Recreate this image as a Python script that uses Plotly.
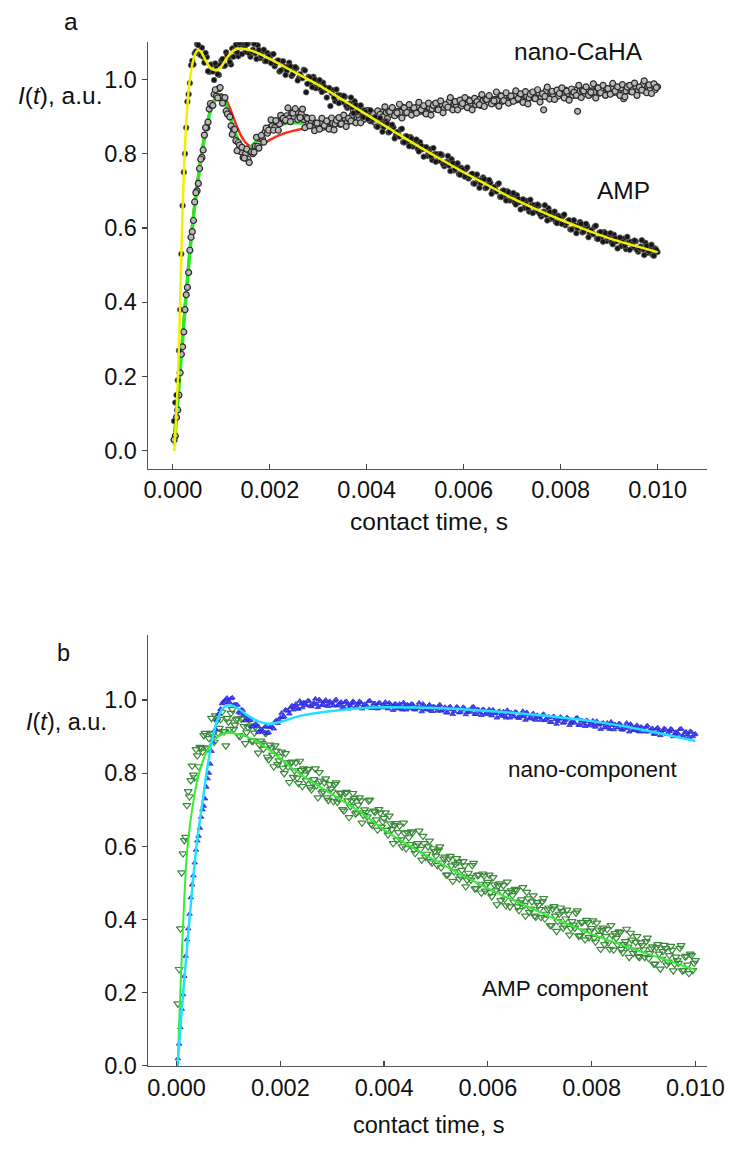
import plotly.graph_objects as go

# ---------------- data ----------------
# sampling grids of the measurements (microseconds -> seconds)
t_us = list(range(50, 10001, 50))
t_grid = [v * 1e-6 for v in t_us]
t_mid_us = list(range(25, 10000, 50))
t_mid = [v * 1e-6 for v in t_mid_us]

# panel a: measured signals (values on t_grid and on t_mid)
nano_caha = [
    0.04, 0.11, 0.21, 0.28, 0.38, 0.44, 0.54, 0.59, 0.67, 0.70, 0.76, 0.79, 0.85, 0.87, 0.92, 0.93, 0.96, 0.955, 0.975, 0.95,
    0.945, 0.915, 0.905, 0.875, 0.865, 0.835, 0.83, 0.805, 0.79, 0.80, 0.785, 0.805, 0.80, 0.82, 0.82, 0.84, 0.84, 0.858, 0.855, 0.87,
    0.875, 0.87, 0.886, 0.88, 0.895, 0.888, 0.902, 0.895, 0.91, 0.90, 0.912, 0.898, 0.907, 0.892, 0.898, 0.882, 0.888, 0.874, 0.882, 0.871,
    0.883, 0.871, 0.880, 0.870, 0.886, 0.882, 0.880, 0.893, 0.879, 0.889, 0.895, 0.885, 0.891, 0.903, 0.886, 0.899, 0.894, 0.905, 0.893, 0.902,
    0.896, 0.910, 0.902, 0.908, 0.898, 0.912, 0.897, 0.910, 0.914, 0.906, 0.918, 0.904, 0.914, 0.912, 0.925, 0.909, 0.920, 0.910, 0.922, 0.918,
    0.926, 0.914, 0.923, 0.911, 0.927, 0.923, 0.920, 0.933, 0.919, 0.927, 0.933, 0.923, 0.928, 0.940, 0.923, 0.935, 0.930, 0.940, 0.928, 0.937,
    0.931, 0.945, 0.936, 0.942, 0.932, 0.946, 0.930, 0.943, 0.947, 0.939, 0.950, 0.936, 0.946, 0.944, 0.956, 0.941, 0.952, 0.942, 0.954, 0.950,
    0.958, 0.945, 0.954, 0.943, 0.958, 0.954, 0.950, 0.963, 0.949, 0.957, 0.963, 0.952, 0.918, 0.969, 0.951, 0.964, 0.958, 0.968, 0.955, 0.964,
    0.957, 0.971, 0.962, 0.968, 0.957, 0.971, 0.914, 0.968, 0.971, 0.962, 0.974, 0.959, 0.969, 0.966, 0.978, 0.963, 0.973, 0.962, 0.975, 0.970,
    0.977, 0.965, 0.973, 0.962, 0.977, 0.948, 0.969, 0.982, 0.967, 0.975, 0.981, 0.970, 0.975, 0.986, 0.968, 0.981, 0.975, 0.984, 0.972, 0.980,
]
nano_caha_mid = [
    0.03, 0.09, 0.15, 0.26, 0.32, 0.42, 0.48, 0.575, 0.62, 0.695, 0.72, 0.785, 0.81, 0.87, 0.885, 0.935, 0.93, 0.972, 0.950, 0.978,
    0.936, 0.951, 0.907, 0.899, 0.852, 0.865, 0.808, 0.823, 0.817, 0.788, 0.812, 0.776, 0.805, 0.804, 0.844, 0.815, 0.849, 0.831, 0.869, 0.863,
    0.891, 0.863, 0.889, 0.863, 0.903, 0.895, 0.890, 0.923, 0.886, 0.909, 0.921, 0.892, 0.897, 0.920, 0.870, 0.895, 0.875, 0.896, 0.862, 0.882,
    0.866, 0.895, 0.876, 0.888, 0.866, 0.896, 0.864, 0.890, 0.897, 0.880, 0.904, 0.873, 0.895, 0.888, 0.915, 0.883, 0.905, 0.883, 0.909, 0.900,
    0.916, 0.889, 0.908, 0.884, 0.915, 0.906, 0.899, 0.926, 0.894, 0.913, 0.924, 0.902, 0.910, 0.933, 0.896, 0.923, 0.911, 0.932, 0.904, 0.923,
    0.909, 0.938, 0.918, 0.929, 0.907, 0.936, 0.904, 0.930, 0.936, 0.918, 0.942, 0.910, 0.932, 0.925, 0.951, 0.918, 0.940, 0.918, 0.944, 0.935,
    0.951, 0.924, 0.942, 0.918, 0.949, 0.940, 0.932, 0.959, 0.927, 0.946, 0.956, 0.934, 0.942, 0.966, 0.928, 0.955, 0.943, 0.964, 0.936, 0.955,
    0.941, 0.969, 0.949, 0.961, 0.938, 0.967, 0.934, 0.960, 0.966, 0.948, 0.972, 0.939, 0.961, 0.954, 0.979, 0.947, 0.968, 0.946, 0.971, 0.962,
    0.977, 0.950, 0.968, 0.944, 0.974, 0.965, 0.957, 0.984, 0.951, 0.969, 0.980, 0.957, 0.965, 0.988, 0.950, 0.977, 0.964, 0.984, 0.957, 0.975,
    0.960, 0.989, 0.968, 0.980, 0.957, 0.986, 0.953, 0.979, 0.984, 0.966, 0.990, 0.957, 0.979, 0.971, 0.996, 0.964, 0.985, 0.962, 0.988, 0.978,
]
amp = [
    0.13, 0.19, 0.38, 0.66, 0.80, 0.94, 0.99, 1.05, 1.07, 1.095, 1.068, 1.085, 1.045, 1.06, 1.02, 1.04, 0.998, 1.035, 1.012, 1.05,
    1.036, 1.073, 1.060, 1.040, 1.061, 1.093, 1.062, 1.088, 1.093, 1.074, 1.096, 1.061, 1.080, 1.070, 1.092, 1.057, 1.075, 1.049, 1.071, 1.055,
    1.067, 1.035, 1.050, 1.021, 1.048, 1.034, 1.023, 1.045, 1.009, 1.023, 1.030, 1.003, 1.007, 1.026, 0.965, 1.007, 0.991, 1.007, 0.976, 0.990,
    0.973, 0.991, 0.971, 0.975, 0.928, 0.971, 0.941, 0.957, 0.957, 0.939, 0.953, 0.923, 0.935, 0.925, 0.941, 0.911, 0.923, 0.901, 0.917, 0.905,
    0.913, 0.887, 0.897, 0.873, 0.893, 0.881, 0.871, 0.887, 0.857, 0.867, 0.871, 0.849, 0.851, 0.865, 0.831, 0.847, 0.833, 0.845, 0.819, 0.829,
    0.813, 0.831, 0.812, 0.816, 0.794, 0.812, 0.783, 0.799, 0.799, 0.781, 0.796, 0.766, 0.778, 0.768, 0.785, 0.755, 0.767, 0.745, 0.762, 0.750,
    0.759, 0.733, 0.744, 0.720, 0.741, 0.729, 0.720, 0.736, 0.707, 0.717, 0.722, 0.700, 0.703, 0.717, 0.684, 0.700, 0.687, 0.699, 0.674, 0.684,
    0.669, 0.688, 0.669, 0.674, 0.654, 0.673, 0.644, 0.661, 0.662, 0.645, 0.660, 0.631, 0.644, 0.635, 0.653, 0.624, 0.637, 0.616, 0.633, 0.622,
    0.632, 0.607, 0.619, 0.596, 0.618, 0.607, 0.599, 0.616, 0.588, 0.599, 0.605, 0.584, 0.588, 0.603, 0.571, 0.588, 0.576, 0.589, 0.565, 0.576,
    0.562, 0.582, 0.564, 0.571, 0.551, 0.571, 0.543, 0.561, 0.563, 0.548, 0.564, 0.536, 0.550, 0.542, 0.560, 0.533, 0.547, 0.527, 0.545, 0.535,
]
amp_mid = [
    0.08, 0.15, 0.27, 0.53, 0.75, 0.87, 0.96, 1.038, 1.04, 1.075, 1.092, 1.065, 1.061, 1.071, 1.022, 1.039, 1.021, 1.043, 1.014, 1.038,
    1.055, 1.037, 1.065, 1.047, 1.083, 1.078, 1.073, 1.098, 1.068, 1.085, 1.094, 1.070, 1.075, 1.096, 1.055, 1.079, 1.063, 1.080, 1.049, 1.063,
    1.044, 1.068, 1.043, 1.051, 1.024, 1.049, 1.012, 1.034, 1.035, 1.014, 1.033, 0.997, 1.014, 1.003, 1.024, 0.988, 1.005, 0.979, 1.000, 0.987,
    0.998, 0.966, 0.980, 0.951, 0.977, 0.963, 0.951, 0.973, 0.936, 0.950, 0.956, 0.929, 0.932, 0.951, 0.909, 0.931, 0.914, 0.930, 0.898, 0.912,
    0.893, 0.917, 0.892, 0.899, 0.872, 0.896, 0.859, 0.880, 0.881, 0.859, 0.878, 0.841, 0.858, 0.846, 0.867, 0.830, 0.847, 0.820, 0.841, 0.827,
    0.838, 0.806, 0.821, 0.792, 0.818, 0.804, 0.793, 0.815, 0.778, 0.792, 0.799, 0.772, 0.775, 0.794, 0.753, 0.775, 0.758, 0.774, 0.743, 0.757,
    0.738, 0.763, 0.738, 0.746, 0.719, 0.744, 0.708, 0.729, 0.731, 0.709, 0.729, 0.692, 0.710, 0.698, 0.720, 0.683, 0.701, 0.674, 0.696, 0.682,
    0.694, 0.663, 0.678, 0.650, 0.677, 0.664, 0.653, 0.676, 0.640, 0.655, 0.663, 0.637, 0.641, 0.661, 0.620, 0.643, 0.627, 0.644, 0.613, 0.628,
    0.611, 0.636, 0.613, 0.621, 0.596, 0.621, 0.586, 0.608, 0.611, 0.590, 0.611, 0.575, 0.594, 0.583, 0.606, 0.570, 0.589, 0.563, 0.586, 0.573,
    0.586, 0.556, 0.572, 0.545, 0.574, 0.562, 0.552, 0.576, 0.541, 0.557, 0.566, 0.541, 0.546, 0.567, 0.527, 0.552, 0.537, 0.555, 0.525, 0.541,
]

# panel a: fitted curves
t_fit_amp = [0.00003, 0.0001, 0.00015, 0.0002, 0.00025, 0.0003, 0.00035, 0.0004, 0.00045, 0.0005, 0.00055,
             0.0006, 0.0007, 0.0008, 0.0009, 0.001, 0.0011, 0.0012, 0.0013, 0.0014, 0.0016, 0.0018, 0.002,
             0.0025, 0.003, 0.0035, 0.004, 0.0045, 0.005, 0.0055, 0.006, 0.0065, 0.007, 0.0075, 0.008,
             0.0085, 0.009, 0.0095, 0.01]
fit_amp_yellow = [0.0, 0.18, 0.40, 0.65, 0.82, 0.93, 1.00, 1.04, 1.065, 1.077, 1.078,
                  1.07, 1.045, 1.028, 1.025, 1.035, 1.055, 1.072, 1.081, 1.083, 1.078, 1.068, 1.055,
                  1.02, 0.985, 0.945, 0.905, 0.865, 0.825, 0.787, 0.75, 0.715, 0.68, 0.65, 0.622,
                  0.596, 0.572, 0.553, 0.535]
t_fit_nano = [0.00003, 0.0001, 0.0002, 0.0003, 0.0004, 0.0005, 0.0006, 0.0007, 0.0008, 0.0009, 0.001,
              0.0011, 0.0012, 0.0013, 0.0014, 0.0015, 0.0016, 0.0017, 0.0018, 0.0019, 0.002, 0.0022,
              0.0025, 0.003, 0.0035, 0.004, 0.005, 0.006, 0.007, 0.008, 0.009, 0.01]
fit_nano_green = [0.015, 0.13, 0.30, 0.46, 0.60, 0.71, 0.80, 0.875, 0.925, 0.952, 0.955,
                  0.93, 0.89, 0.852, 0.826, 0.816, 0.818, 0.83, 0.845, 0.858, 0.868, 0.878,
                  0.883, 0.882, 0.886, 0.895, 0.912, 0.93, 0.946, 0.958, 0.968, 0.975]
fit_nano_red = [0.05, 0.15, 0.31, 0.47, 0.61, 0.72, 0.81, 0.88, 0.93, 0.955, 0.96,
                0.945, 0.915, 0.88, 0.85, 0.83, 0.82, 0.818, 0.822, 0.829, 0.837, 0.85,
                0.862, 0.873, 0.881, 0.89, 0.91, 0.93, 0.947, 0.96, 0.972, 0.982]

# panel b: components (values on t_grid and on t_mid)
nano_component = [
    0.06, 0.155, 0.245, 0.345, 0.415, 0.495, 0.555, 0.615, 0.65, 0.70, 0.73, 0.785, 0.825, 0.885, 0.92, 0.96, 0.975, 0.995, 1.002, 0.996,
    1.004, 0.986, 0.987, 0.967, 0.973, 0.959, 0.946, 0.950, 0.928, 0.930, 0.930, 0.915, 0.916, 0.926, 0.909, 0.925, 0.925, 0.941, 0.936, 0.952,
    0.953, 0.973, 0.970, 0.980, 0.973, 0.989, 0.975, 0.989, 0.993, 0.985, 0.997, 0.982, 0.992, 0.989, 1.001, 0.985, 0.995, 0.984, 0.996, 0.990,
    0.997, 0.984, 0.991, 0.979, 0.994, 0.988, 0.984, 0.996, 0.980, 0.988, 0.993, 0.982, 0.985, 0.996, 0.978, 0.990, 0.983, 0.992, 0.979, 0.987,
    0.980, 0.992, 0.983, 0.988, 0.976, 0.989, 0.973, 0.984, 0.987, 0.977, 0.988, 0.973, 0.981, 0.978, 0.989, 0.973, 0.982, 0.971, 0.982, 0.977,
    0.983, 0.970, 0.977, 0.965, 0.979, 0.974, 0.969, 0.981, 0.965, 0.973, 0.977, 0.966, 0.969, 0.980, 0.961, 0.973, 0.966, 0.974, 0.961, 0.968,
    0.960, 0.973, 0.963, 0.967, 0.956, 0.968, 0.951, 0.963, 0.965, 0.955, 0.966, 0.950, 0.958, 0.955, 0.966, 0.949, 0.959, 0.947, 0.958, 0.952,
    0.958, 0.944, 0.952, 0.939, 0.953, 0.947, 0.942, 0.953, 0.937, 0.945, 0.949, 0.937, 0.940, 0.950, 0.931, 0.943, 0.936, 0.944, 0.930, 0.937,
    0.929, 0.942, 0.932, 0.936, 0.924, 0.937, 0.920, 0.931, 0.933, 0.924, 0.934, 0.918, 0.926, 0.923, 0.934, 0.917, 0.926, 0.915, 0.926, 0.920,
    0.926, 0.913, 0.920, 0.907, 0.921, 0.916, 0.911, 0.922, 0.906, 0.914, 0.918, 0.906, 0.909, 0.920, 0.901, 0.912, 0.905, 0.914, 0.900, 0.907,
]
nano_component_mid = [
    0.02, 0.105, 0.195, 0.30, 0.375, 0.46, 0.52, 0.59, 0.628, 0.68, 0.71, 0.762, 0.80, 0.86, 0.898, 0.946, 0.962, 0.99, 0.992, 1.005,
    0.993, 1.006, 0.987, 0.986, 0.964, 0.972, 0.943, 0.949, 0.944, 0.927, 0.935, 0.911, 0.920, 0.913, 0.928, 0.911, 0.929, 0.921, 0.944, 0.946,
    0.964, 0.954, 0.971, 0.962, 0.984, 0.982, 0.979, 0.997, 0.979, 0.991, 0.997, 0.984, 0.988, 1.003, 0.980, 0.996, 0.988, 1.000, 0.983, 0.993,
    0.984, 1.001, 0.987, 0.994, 0.980, 0.996, 0.976, 0.991, 0.993, 0.982, 0.996, 0.976, 0.988, 0.983, 0.998, 0.978, 0.990, 0.976, 0.991, 0.985,
    0.994, 0.976, 0.987, 0.972, 0.989, 0.983, 0.978, 0.993, 0.973, 0.983, 0.989, 0.975, 0.978, 0.992, 0.968, 0.984, 0.975, 0.987, 0.969, 0.980,
    0.970, 0.987, 0.973, 0.980, 0.965, 0.982, 0.961, 0.976, 0.978, 0.967, 0.980, 0.960, 0.972, 0.967, 0.981, 0.961, 0.973, 0.958, 0.973, 0.966,
    0.974, 0.957, 0.967, 0.951, 0.969, 0.962, 0.956, 0.972, 0.951, 0.961, 0.967, 0.952, 0.955, 0.969, 0.945, 0.960, 0.952, 0.963, 0.945, 0.955,
    0.945, 0.961, 0.948, 0.954, 0.939, 0.955, 0.934, 0.948, 0.950, 0.939, 0.952, 0.931, 0.943, 0.937, 0.951, 0.931, 0.943, 0.928, 0.942, 0.935,
    0.943, 0.926, 0.936, 0.920, 0.937, 0.931, 0.925, 0.940, 0.919, 0.930, 0.935, 0.920, 0.923, 0.937, 0.913, 0.928, 0.919, 0.931, 0.913, 0.923,
    0.913, 0.930, 0.916, 0.922, 0.907, 0.924, 0.903, 0.917, 0.919, 0.908, 0.921, 0.900, 0.912, 0.907, 0.921, 0.900, 0.912, 0.898, 0.912, 0.905,
]
amp_component = [
    0.264, 0.528, 0.616, 0.712, 0.736, 0.820, 0.788, 0.848, 0.871, 0.858, 0.909, 0.867, 0.909, 0.907, 0.957, 0.910, 0.947, 0.914, 0.875, 0.940,
    0.964, 0.920, 0.946, 0.903, 0.948, 0.928, 0.911, 0.946, 0.888, 0.910, 0.920, 0.877, 0.882, 0.911, 0.844, 0.877, 0.850, 0.875, 0.824, 0.845,
    0.814, 0.854, 0.817, 0.829, 0.789, 0.829, 0.772, 0.808, 0.812, 0.780, 0.811, 0.755, 0.783, 0.766, 0.802, 0.746, 0.774, 0.733, 0.769, 0.749,
    0.769, 0.721, 0.745, 0.701, 0.745, 0.725, 0.709, 0.745, 0.689, 0.713, 0.725, 0.685, 0.693, 0.725, 0.661, 0.697, 0.673, 0.701, 0.653, 0.677,
    0.644, 0.683, 0.646, 0.658, 0.617, 0.656, 0.599, 0.635, 0.638, 0.605, 0.637, 0.581, 0.608, 0.592, 0.628, 0.571, 0.599, 0.559, 0.594, 0.574,
    0.590, 0.542, 0.566, 0.522, 0.566, 0.547, 0.531, 0.567, 0.511, 0.535, 0.547, 0.508, 0.516, 0.548, 0.484, 0.521, 0.497, 0.525, 0.478, 0.502,
    0.474, 0.515, 0.479, 0.492, 0.452, 0.493, 0.438, 0.474, 0.479, 0.448, 0.480, 0.425, 0.454, 0.439, 0.475, 0.420, 0.449, 0.410, 0.447, 0.428,
    0.449, 0.402, 0.427, 0.384, 0.429, 0.410, 0.395, 0.432, 0.377, 0.402, 0.415, 0.376, 0.385, 0.418, 0.355, 0.392, 0.369, 0.398, 0.351, 0.376,
    0.350, 0.391, 0.357, 0.370, 0.332, 0.373, 0.319, 0.356, 0.362, 0.331, 0.365, 0.310, 0.340, 0.325, 0.363, 0.308, 0.338, 0.299, 0.337, 0.318,
    0.340, 0.294, 0.320, 0.278, 0.324, 0.306, 0.292, 0.330, 0.276, 0.302, 0.316, 0.278, 0.288, 0.322, 0.260, 0.298, 0.276, 0.306, 0.261, 0.288,
]
amp_component_mid = [
    0.17, 0.375, 0.58, 0.625, 0.75, 0.78, 0.795, 0.865, 0.818, 0.868, 0.903, 0.870, 0.895, 0.950, 0.885, 0.943, 0.923, 0.967, 0.914, 0.950,
    0.920, 0.974, 0.932, 0.949, 0.900, 0.951, 0.881, 0.925, 0.929, 0.888, 0.927, 0.855, 0.888, 0.866, 0.909, 0.837, 0.870, 0.818, 0.861, 0.834,
    0.858, 0.799, 0.829, 0.775, 0.831, 0.807, 0.787, 0.833, 0.764, 0.795, 0.810, 0.761, 0.772, 0.812, 0.733, 0.779, 0.750, 0.785, 0.726, 0.757,
    0.723, 0.774, 0.730, 0.746, 0.697, 0.748, 0.679, 0.725, 0.731, 0.692, 0.733, 0.664, 0.700, 0.681, 0.727, 0.658, 0.694, 0.645, 0.691, 0.667,
    0.692, 0.632, 0.662, 0.608, 0.663, 0.638, 0.618, 0.664, 0.594, 0.624, 0.640, 0.591, 0.601, 0.642, 0.563, 0.608, 0.579, 0.615, 0.555, 0.586,
    0.548, 0.599, 0.555, 0.571, 0.522, 0.573, 0.505, 0.551, 0.557, 0.518, 0.559, 0.490, 0.527, 0.508, 0.554, 0.485, 0.522, 0.473, 0.519, 0.496,
    0.522, 0.463, 0.495, 0.441, 0.498, 0.475, 0.456, 0.503, 0.435, 0.466, 0.483, 0.435, 0.446, 0.488, 0.410, 0.457, 0.429, 0.465, 0.407, 0.439,
    0.406, 0.458, 0.415, 0.432, 0.384, 0.436, 0.368, 0.415, 0.422, 0.384, 0.426, 0.358, 0.395, 0.377, 0.424, 0.356, 0.393, 0.345, 0.392, 0.369,
    0.397, 0.339, 0.372, 0.319, 0.377, 0.354, 0.337, 0.384, 0.317, 0.349, 0.367, 0.319, 0.332, 0.374, 0.297, 0.344, 0.317, 0.354, 0.297, 0.329,
    0.297, 0.350, 0.308, 0.326, 0.279, 0.332, 0.265, 0.313, 0.321, 0.284, 0.327, 0.260, 0.298, 0.281, 0.329, 0.262, 0.300, 0.253, 0.302, 0.281,
]
t_fit_b = [0.00002, 0.0001, 0.0002, 0.0003, 0.0004, 0.0005, 0.0006, 0.0007, 0.0008, 0.0009, 0.001,
           0.0011, 0.0012, 0.0014, 0.0016, 0.0018, 0.002, 0.0024, 0.003, 0.0036, 0.004, 0.005,
           0.006, 0.007, 0.008, 0.009, 0.01]
fit_nano_cyan = [0.0, 0.15, 0.32, 0.48, 0.62, 0.72, 0.82, 0.90, 0.95, 0.978, 0.985,
                 0.983, 0.975, 0.955, 0.94, 0.935, 0.94, 0.957, 0.97, 0.978, 0.98, 0.978,
                 0.97, 0.958, 0.942, 0.918, 0.888]
fit_amp_green = [0.0, 0.30, 0.58, 0.70, 0.78, 0.83, 0.865, 0.89, 0.90, 0.907, 0.91,
                 0.909, 0.906, 0.897, 0.882, 0.862, 0.84, 0.795, 0.742, 0.688, 0.645, 0.56,
                 0.485, 0.42, 0.36, 0.31, 0.262]

x_ticks = [0.0, 0.002, 0.004, 0.006, 0.008, 0.010]
x_tick_text = ["0.000", "0.002", "0.004", "0.006", "0.008", "0.010"]
y_ticks = [0.0, 0.2, 0.4, 0.6, 0.8, 1.0]
y_tick_text = ["0.0", "0.2", "0.4", "0.6", "0.8", "1.0"]

# ---------------- figure ----------------
W, H = 747, 1155
FONT = "Liberation Sans, Arial, sans-serif"
FS_TICK = 23.5
FS_A = 24.5
FS_B = 22.5

fig = go.Figure()

# panel a
fig.add_trace(go.Scatter(x=t_fit_nano, y=fit_nano_red, mode="lines",
                         line=dict(color="#ff2a1a", width=2.5, shape="spline", smoothing=0.8),
                         xaxis="x", yaxis="y", showlegend=False))
fig.add_trace(go.Scatter(x=t_fit_nano, y=fit_nano_green, mode="lines",
                         line=dict(color="#22ee22", width=3.5, shape="spline", smoothing=0.8),
                         xaxis="x", yaxis="y", showlegend=False))
fig.add_trace(go.Scatter(x=t_grid + t_mid, y=nano_caha + nano_caha_mid, mode="markers",
                         marker=dict(symbol="circle", size=6, color="#b8b8b8", line=dict(color="#2a2a2a", width=1.2)),
                         xaxis="x", yaxis="y", showlegend=False))
fig.add_trace(go.Scatter(x=t_grid + t_mid, y=amp + amp_mid, mode="markers",
                         marker=dict(symbol="circle", size=5.5, color="#151515", line=dict(color="#606060", width=0.8)),
                         xaxis="x", yaxis="y", showlegend=False))
fig.add_trace(go.Scatter(x=t_fit_amp, y=fit_amp_yellow, mode="lines",
                         line=dict(color="#f0f000", width=2.5, shape="spline", smoothing=0.8),
                         xaxis="x", yaxis="y", showlegend=False))

# panel b
fig.add_trace(go.Scatter(x=t_grid + t_mid, y=amp_component + amp_component_mid, mode="markers",
                         marker=dict(symbol="triangle-down-open", size=7, color="#3b8a3b", line=dict(width=1.2)),
                         xaxis="x2", yaxis="y2", showlegend=False))
fig.add_trace(go.Scatter(x=t_grid + t_mid, y=nano_component + nano_component_mid, mode="markers",
                         marker=dict(symbol="triangle-up", size=5, color="#4a4aff", line=dict(color="#2222cc", width=0.7)),
                         xaxis="x2", yaxis="y2", showlegend=False))
fig.add_trace(go.Scatter(x=t_fit_b, y=fit_amp_green, mode="lines",
                         line=dict(color="#33ee33", width=2, shape="spline", smoothing=0.8),
                         xaxis="x2", yaxis="y2", showlegend=False))
fig.add_trace(go.Scatter(x=t_fit_b, y=fit_nano_cyan, mode="lines",
                         line=dict(color="#22e0ff", width=2.5, shape="spline", smoothing=0.8),
                         xaxis="x2", yaxis="y2", showlegend=False))

axis_common = dict(showgrid=False, zeroline=False, showline=True, linecolor="#555555", linewidth=1.5,
                   tickfont=dict(family=FONT, size=FS_TICK, color="#111111"), ticklen=5, tickwidth=1.2,
                   tickcolor="#444444")

x_dom = [147.7 / W, 724.3 / W]
fig.update_layout(
    width=W, height=H, margin=dict(l=0, r=0, t=0, b=0),
    paper_bgcolor="white", plot_bgcolor="white",
    xaxis=dict(domain=x_dom, range=[-0.00051, 0.01102], tickvals=x_ticks, ticktext=x_tick_text,
               ticks="inside", anchor="y", **axis_common),
    yaxis=dict(domain=[(H - 474) / H, (H - 42.7) / H], range=[-0.048, 1.10], tickvals=y_ticks,
               ticktext=y_tick_text, ticks="outside", anchor="x", **axis_common),
    xaxis2=dict(domain=x_dom, range=[-0.000547, 0.010224], tickvals=x_ticks, ticktext=x_tick_text,
                ticks="inside", anchor="y2", **axis_common),
    yaxis2=dict(domain=[(H - 1078) / H, (H - 642) / H], range=[0, 1.178], tickvals=y_ticks,
                ticktext=y_tick_text, ticks="outside", anchor="x2", **axis_common),
)


def note(text, x_px, y_px, size):
    fig.add_annotation(text=text, x=x_px / W, y=1 - y_px / H, xref="paper", yref="paper",
                       showarrow=False, xanchor="center", yanchor="middle",
                       font=dict(family=FONT, size=size, color="#111111"))


note("a", 68, 22, FS_A)
note("<i>I</i>(<i>t</i>), a.u.", 57, 97, FS_A)
note("nano-CaHA", 592, 52, FS_A)
note("AMP", 638, 193, FS_A)
note("contact time, s", 437, 527, FS_A)
note("b", 60, 660, FS_TICK)
note("<i>I</i>(<i>t</i>), a.u.", 63, 730, FS_TICK)
note("nano-component", 607, 778, FS_B)
note("AMP component", 578, 1000, FS_B)
note("contact time, s", 437, 1138, FS_TICK)

# remove the default page margin so the 747x1155 figure fills the window exactly
fig.write_html("out.html",
               config={"displayModeBar": False, "staticPlot": True},
               post_script="document.body.style.margin='0px';document.body.style.overflow='hidden';")
